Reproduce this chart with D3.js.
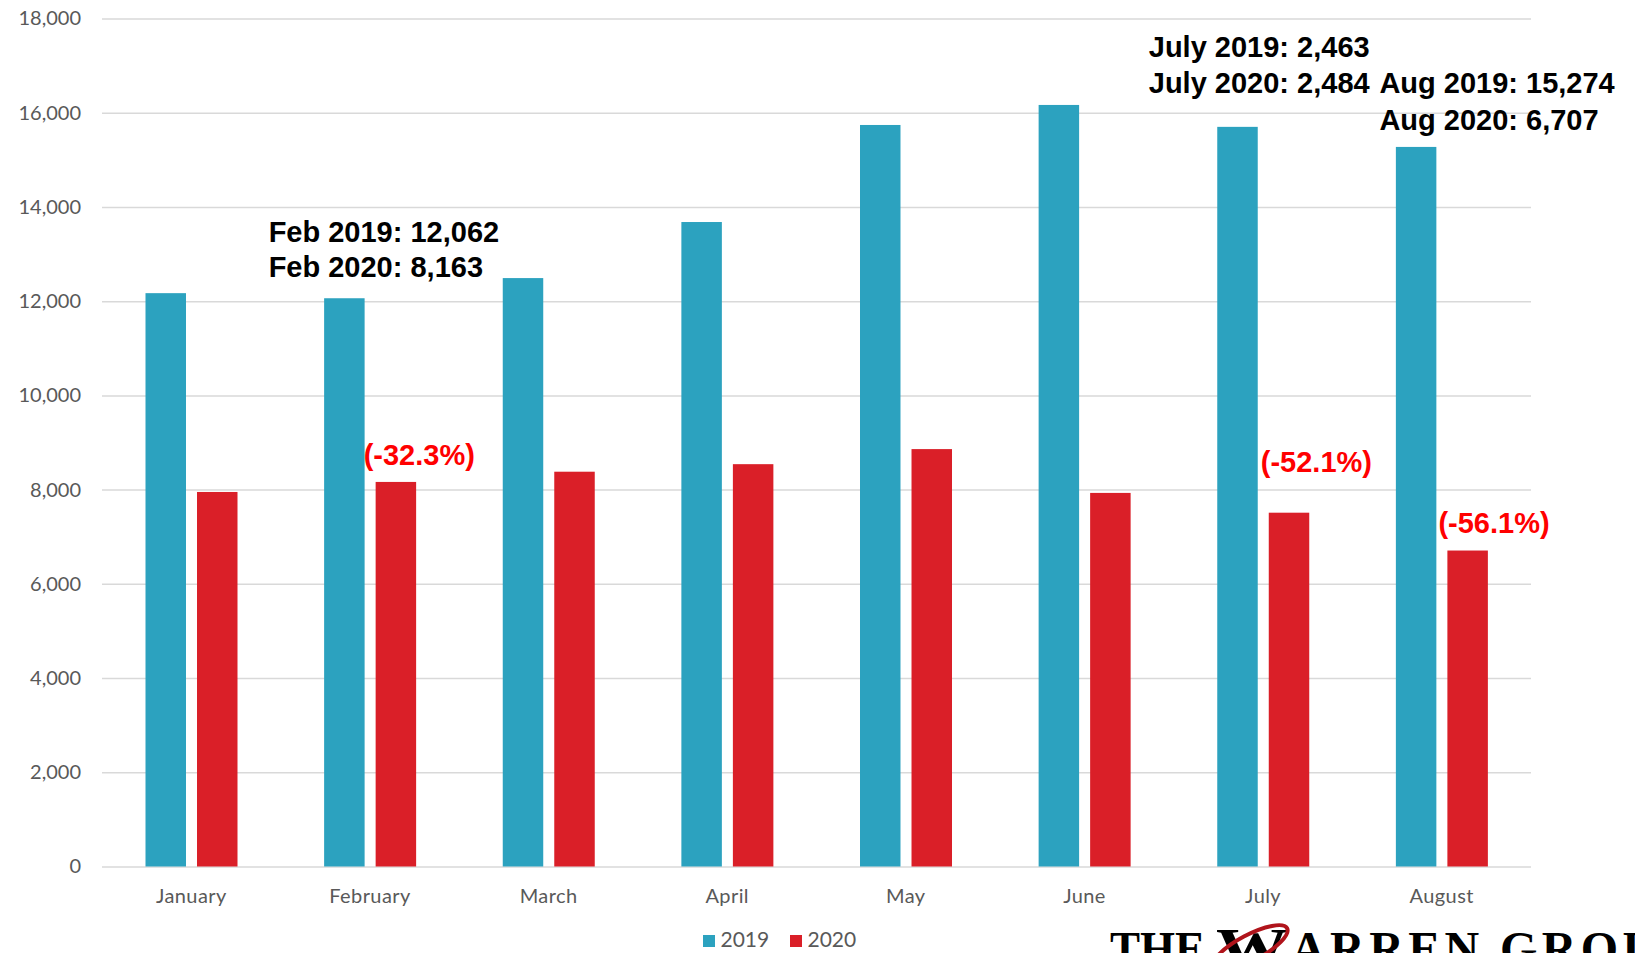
<!DOCTYPE html>
<html>
<head>
<meta charset="utf-8">
<script src="https://cdn.jsdelivr.net/npm/d3@7"></script>
<style>
  body { margin: 0; background: #fff; overflow: hidden; }
  svg { display: block; }
  .tick text { font-family: Lato, "Open Sans", sans-serif; fill: #595959; }
</style>
</head>
<body>
<script>
var months = ["January", "February", "March", "April", "May", "June", "July", "August"];
var series = ["2019", "2020"];
var sales2019 = [12170, 12062, 12490, 13680, 15740, 16165, 15700, 15274];
var sales2020 = [7950, 8163, 8380, 8540, 8860, 7930, 7510, 6707];
var yTicks = [0, 2000, 4000, 6000, 8000, 10000, 12000, 14000, 16000, 18000];

// callouts: month, lines of text
var noteMonths = ["February", "July", "August"];
var noteLines = [
  ["Feb 2019: 12,062", "Feb 2020: 8,163"],
  ["July 2019: 2,463", "July 2020: 2,484"],
  ["Aug 2019: 15,274", "Aug 2020: 6,707"]
];
var pctMonths = ["February", "July", "August"];
var pctLabels = ["(-32.3%)", "(-52.1%)", "(-56.1%)"];

var width = 1635,
    height = 953,
    margin = {top: 18.5, right: 104, bottom: 86.5, left: 102};

var colors = {"2019": "#2ca2bf", "2020": "#da1f28"};

var svg = d3.select("body").append("svg")
    .attr("width", width)
    .attr("height", height);

var x0 = d3.scaleBand()
    .domain(months)
    .range([margin.left, width - margin.right])
    .padding(0);

var x1 = d3.scaleBand()
    .domain(series)
    .range([43.5, 135.5])
    .paddingInner(0.214);

var y = d3.scaleLinear()
    .domain([0, 18000])
    .range([height - margin.bottom, margin.top]);

// grid + y labels
var yAxis = svg.append("g")
    .attr("transform", "translate(" + margin.left + ",0)")
    .call(d3.axisLeft(y).tickValues(yTicks).tickFormat(d3.format(",d"))
      .tickSize(-(width - margin.left - margin.right)).tickPadding(21));
yAxis.select(".domain").remove();
yAxis.selectAll(".tick line").attr("stroke", "#d9d9d9").attr("stroke-width", 1.5);
yAxis.selectAll(".tick text").style("font-size", "20px");

// x labels
var xAxis = svg.append("g")
    .attr("transform", "translate(0," + (height - margin.bottom) + ")")
    .call(d3.axisBottom(x0).tickSize(0).tickPadding(22));
xAxis.select(".domain").remove();
xAxis.selectAll(".tick text").style("font-size", "20px").style("letter-spacing", "0.4px");

var rows = months.map(function(m, i) {
  return {month: m, values: [{key: "2019", v: sales2019[i]}, {key: "2020", v: sales2020[i]}]};
});

var groups = svg.append("g").selectAll("g")
    .data(rows)
    .enter().append("g")
    .attr("transform", function(d) { return "translate(" + x0(d.month) + ",0)"; });

groups.selectAll("rect")
    .data(function(d) { return d.values; })
    .enter().append("rect")
    .attr("x", function(d) { return x1(d.key); })
    .attr("y", function(d) { return y(d.v); })
    .attr("width", x1.bandwidth())
    .attr("height", function(d) { return y(0) - y(d.v); })
    .attr("fill", function(d) { return colors[d.key]; });

// black callouts
var noteOffsets = [
  {dx: -12, dy: [-56.6, -21.6], ref: sales2019},
  {dx: -25, dy: [-69.6, -34.2], ref: sales2019},
  {dx: 27, dy: [-54.2, -16.9], ref: sales2019}
];
noteMonths.forEach(function(m, i) {
  var idx = months.indexOf(m);
  var o = noteOffsets[i];
  var t = svg.append("text")
      .attr("font-family", "'Liberation Sans', Arial, sans-serif")
      .attr("font-weight", "bold")
      .attr("font-size", 29)
      .attr("fill", "#000");
  noteLines[i].forEach(function(line, j) {
    t.append("tspan")
      .attr("x", x0(m) + o.dx)
      .attr("y", y(o.ref[idx]) + o.dy[j])
      .text(line);
  });
});

// red percentage labels
var pctOffsets = [{dx: -12, dy: -17}, {dx: -8, dy: -41}, {dx: -9, dy: -17.5}];
pctMonths.forEach(function(m, i) {
  var idx = months.indexOf(m);
  svg.append("text")
    .attr("x", x0(m) + x1("2020") + pctOffsets[i].dx)
    .attr("y", y(sales2020[idx]) + pctOffsets[i].dy)
    .attr("font-family", "'Liberation Sans', Arial, sans-serif")
    .attr("font-weight", "bold")
    .attr("font-size", 29)
    .attr("fill", "#ff0000")
    .text(pctLabels[i]);
});

// legend
var legend = svg.append("g").attr("transform", "translate(703,935)");
var lx = 0;
series.forEach(function(s) {
  legend.append("rect").attr("x", lx).attr("y", 0).attr("width", 12).attr("height", 12)
    .attr("fill", colors[s]);
  legend.append("text").attr("x", lx + 17.5).attr("y", 12)
    .attr("font-family", "Lato, 'Open Sans', sans-serif")
    .attr("font-size", 21).attr("fill", "#595959").text(s);
  lx += 87;
});

// logo (cropped at bottom edge like the source)
var logo = svg.append("g").attr("font-family", "'Liberation Serif', 'Times New Roman', serif")
    .attr("font-weight", "bold").attr("fill", "#000");
logo.append("text").attr("x", 1110).attr("y", 965).attr("font-size", 48)
    .attr("textLength", 95).attr("lengthAdjust", "spacingAndGlyphs").text("THE");
logo.append("text").attr("x", 1216).attr("y", 968).attr("font-size", 58)
    .attr("textLength", 72).attr("lengthAdjust", "spacingAndGlyphs").text("W");
logo.append("ellipse").attr("cx", 1250).attr("cy", 948).attr("rx", 42).attr("ry", 13)
    .attr("transform", "rotate(-28,1250,948)")
    .attr("fill", "none").attr("stroke", "#b0141b").attr("stroke-width", 4);
logo.append("text").attr("x", 1291).attr("y", 965).attr("font-size", 48)
    .attr("textLength", 400).attr("lengthAdjust", "spacing").text("ARREN GROUP");
</script>
</body>
</html>
